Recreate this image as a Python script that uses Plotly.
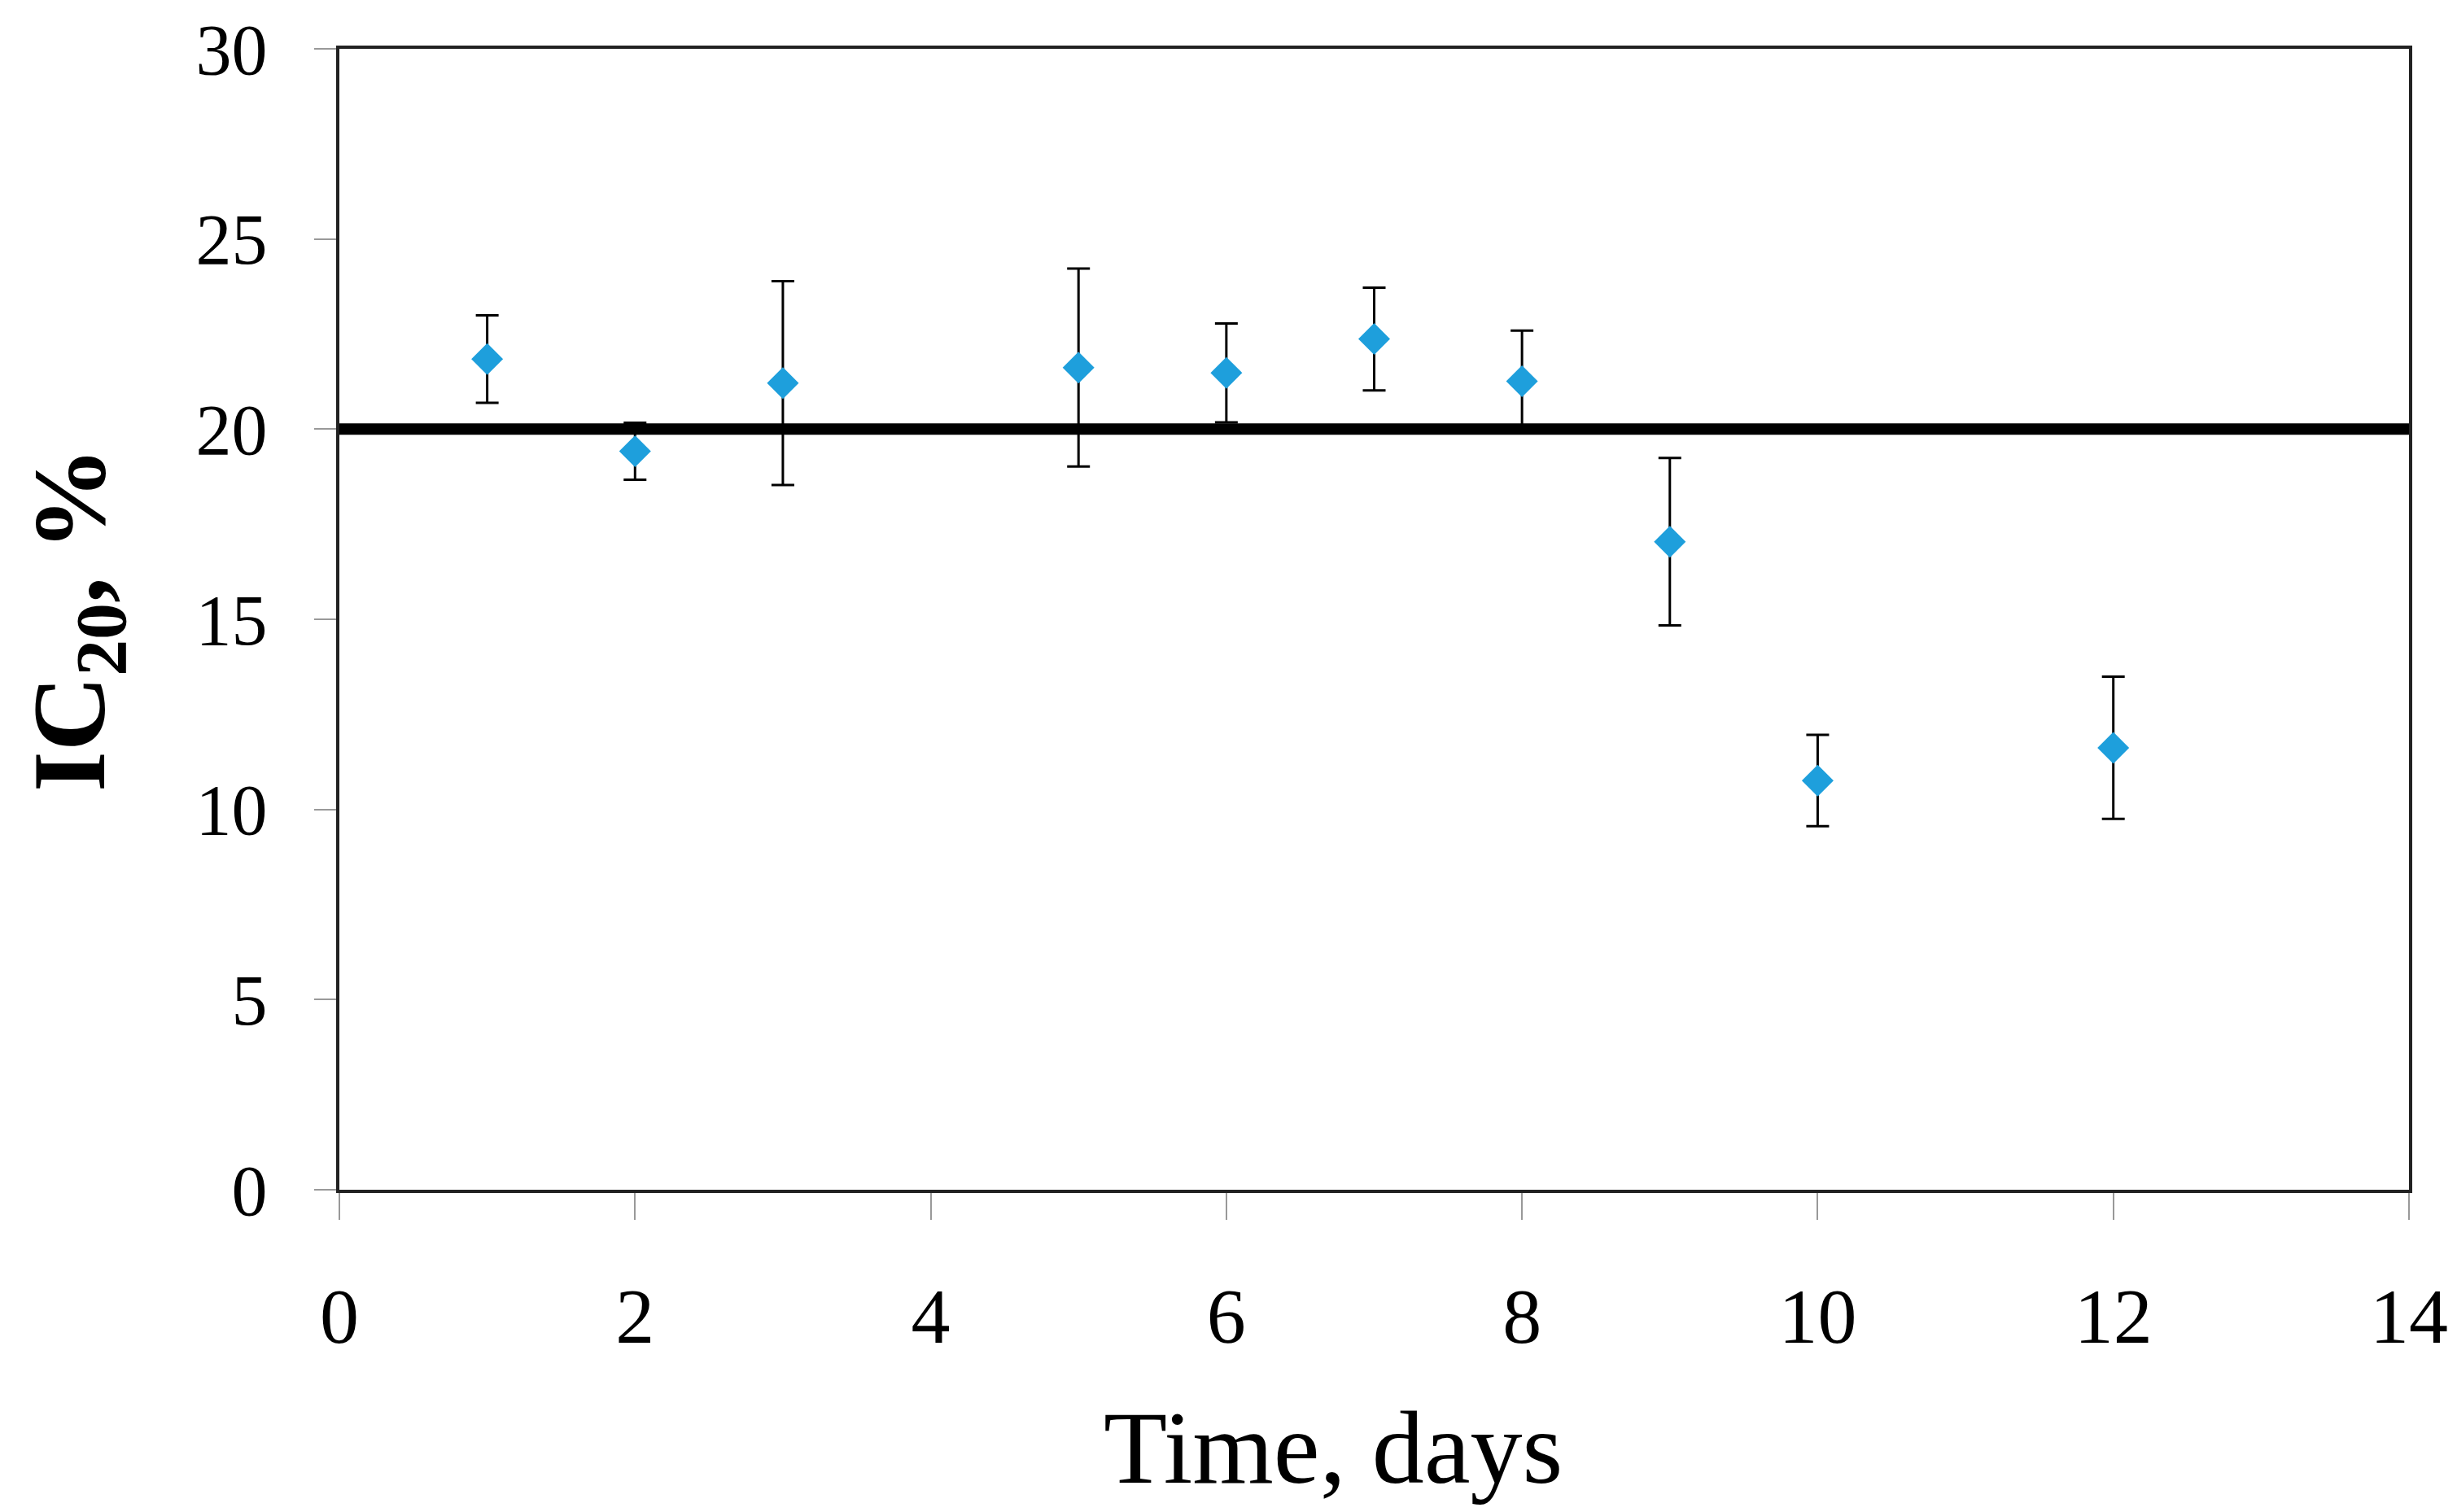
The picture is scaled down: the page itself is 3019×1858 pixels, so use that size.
import plotly.graph_objects as go

days = [1, 2, 3, 5, 6, 7, 8, 9, 10, 12]
ic20 = [21.84, 19.42, 21.21, 21.62, 21.48, 22.37, 21.26, 17.04, 10.76, 11.62]
err = [1.15, 0.75, 2.68, 2.6, 1.3, 1.35, 1.33, 2.2, 1.2, 1.87]
threshold = 20
x_range = [0, 14]
y_range = [0, 30]
x_ticks = [0, 2, 4, 6, 8, 10, 12, 14]
y_ticks = [0, 5, 10, 15, 20, 25, 30]

FONT = "Liberation Serif, Times New Roman, serif"

fig = go.Figure()
fig.add_trace(go.Scatter(
    x=x_range, y=[threshold, threshold], mode="lines",
    line=dict(color="black", width=14), showlegend=False, hoverinfo="skip"))
fig.add_trace(go.Scatter(
    x=days, y=ic20, mode="markers",
    marker=dict(symbol="diamond", size=30, color="#1E9FDC"),
    error_y=dict(type="data", array=err, visible=True, color="black",
                 thickness=3, width=14),
    showlegend=False))

fig.update_layout(
    width=3019, height=1858,
    margin=dict(l=409, r=67, t=52, b=404, autoexpand=False),
    plot_bgcolor="white", paper_bgcolor="white",
    font=dict(family=FONT, color="black", size=88),
    annotations=[dict(
        text="Time, days", xref="paper", yref="paper", x=0.48, y=0,
        xanchor="center", yanchor="middle", yshift=-317, showarrow=False,
        font=dict(size=128, family=FONT, color="black"))],
)
fig.update_xaxes(
    range=x_range, tickvals=x_ticks, ticktext=[str(v) for v in x_ticks],
    showgrid=False, zeroline=False, automargin=False,
    showline=True, linecolor="#222", linewidth=4, mirror=True,
    ticks="outside", ticklen=33, tickwidth=2, tickcolor="#999",
    tickfont=dict(size=96), ticklabelstandoff=36, ticklabeloverflow="allow",
)
fig.update_yaxes(
    range=y_range, tickvals=y_ticks, ticktext=[str(v) for v in y_ticks],
    showgrid=False, zeroline=False, automargin=False,
    showline=True, linecolor="#222", linewidth=4, mirror=True,
    ticks="outside", ticklen=27, tickwidth=2, tickcolor="#999",
    tickfont=dict(size=88), ticklabelstandoff=40, ticklabeloverflow="allow",
    title=dict(text="<b>IC<sub>20</sub>, %</b>", font=dict(size=128), standoff=70),
)

fig.write_html("out.html")
